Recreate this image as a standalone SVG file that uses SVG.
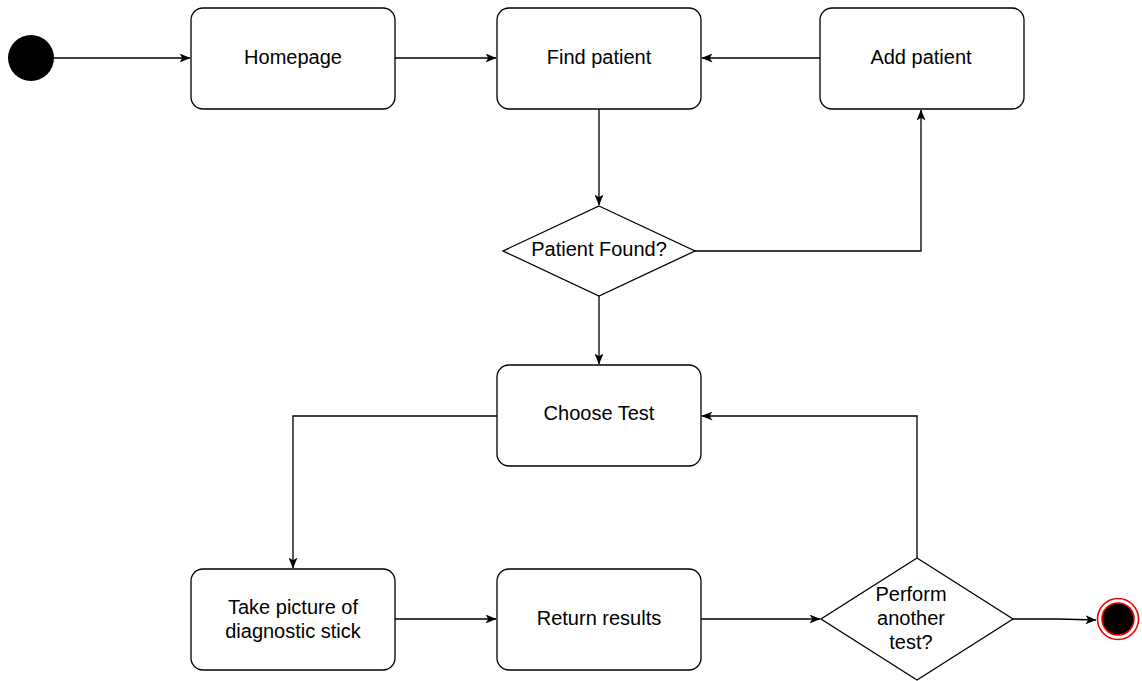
<svg xmlns="http://www.w3.org/2000/svg" width="1142" height="681" viewBox="0 0 1142 681">
<style>
.box{fill:#fff;stroke:#000;stroke-width:1.3}
.dia{fill:#fff;stroke:#000;stroke-width:1.3}
.lbl{font-family:"Liberation Sans",Arial,sans-serif;font-size:20px;fill:#000;text-anchor:middle;dominant-baseline:central}
.edge{fill:none;stroke:#000;stroke-width:1.3}
</style>
<defs>
<marker id="arr" viewBox="0 0 11 9" refX="10.5" refY="4.5" markerWidth="11" markerHeight="9" markerUnits="userSpaceOnUse" orient="auto">
<path d="M0,0 L11,4.5 L0,9 L2.8,4.5 Z" fill="#000"/>
</marker>
</defs>
<rect width="1142" height="681" fill="#fff"/>
<g id="connectors">
<path class="edge" d="M54,58 L190,58" marker-end="url(#arr)"/>
<path class="edge" d="M395,58 L496,58" marker-end="url(#arr)"/>
<path class="edge" d="M820,58 L702,58" marker-end="url(#arr)"/>
<path class="edge" d="M599,109 L599,205" marker-end="url(#arr)"/>
<path class="edge" d="M695,251 L921,251 L921,110" marker-end="url(#arr)"/>
<path class="edge" d="M599,296 L599,364" marker-end="url(#arr)"/>
<path class="edge" d="M497,416 L293,416 L293,568" marker-end="url(#arr)"/>
<path class="edge" d="M395,619 L496,619" marker-end="url(#arr)"/>
<path class="edge" d="M701,619 L820,619" marker-end="url(#arr)"/>
<path class="edge" d="M917,558 L917,416 L702,416" marker-end="url(#arr)"/>
<path class="edge" d="M1012,619 L1058,619 L1096,620" marker-end="url(#arr)"/>
</g>
<g id="start"><circle cx="31" cy="58" r="23" fill="#000"/></g>
<g id="homepage"><rect class="box" x="191" y="8" width="204" height="101" rx="12"/><text class="lbl" x="293" y="57">Homepage</text></g>
<g id="findpatient"><rect class="box" x="497" y="8" width="204" height="101" rx="12"/><text class="lbl" x="599" y="57">Find patient</text></g>
<g id="addpatient"><rect class="box" x="820" y="8" width="204" height="101" rx="12"/><text class="lbl" x="921" y="57">Add patient</text></g>
<g id="patientfound"><polygon class="dia" points="599,206 695,251 599,296 503,251"/><text class="lbl" x="599" y="249">Patient Found?</text></g>
<g id="choosetest"><rect class="box" x="497" y="365" width="204" height="101" rx="12"/><text class="lbl" x="599" y="413">Choose Test</text></g>
<g id="takepicture"><rect class="box" x="191" y="569" width="204" height="101" rx="12"/><text class="lbl" x="293" y="607">Take picture of</text><text class="lbl" x="293" y="631">diagnostic stick</text></g>
<g id="returnresults"><rect class="box" x="497" y="569" width="204" height="101" rx="12"/><text class="lbl" x="599" y="618">Return results</text></g>
<g id="performanother"><polygon class="dia" points="917,558 1013,619 917,680 821,619"/><text class="lbl" x="911" y="594">Perform</text><text class="lbl" x="911" y="618">another</text><text class="lbl" x="911" y="642">test?</text></g>
<g id="end"><circle cx="1118" cy="619" r="20.5" fill="#fff" stroke="#e00" stroke-width="1.6"/><circle cx="1118" cy="619" r="16" fill="#000" stroke="#e00" stroke-width="1.6"/></g>
</svg>
